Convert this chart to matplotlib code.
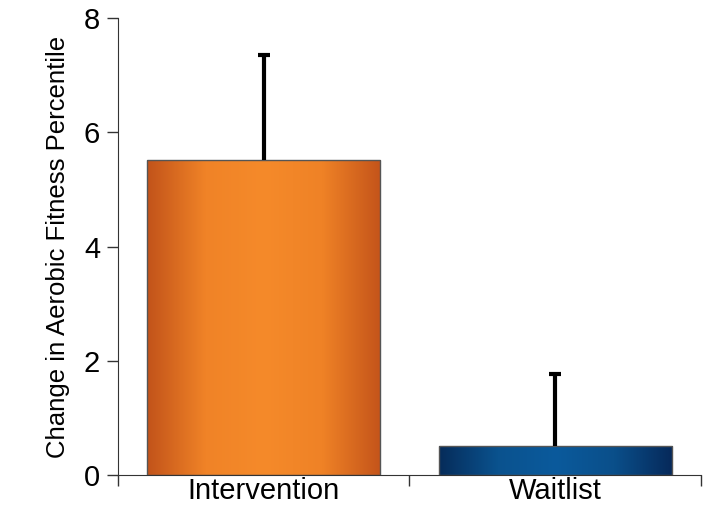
import numpy as np
import matplotlib.pyplot as plt
from matplotlib.colors import LinearSegmentedColormap

plt.rcParams['font.family'] = ['Liberation Sans', 'DejaVu Sans']

# Data
groups = ["Intervention", "Waitlist"]
means = [5.52, 0.51]
upper_err = [1.83, 1.26]

# Edge / centre colours for the horizontal bar gradients
bar_shades = [
    ["#c2531a", "#f08327", "#f58a2a", "#ef8226", "#c4541a"],
    ["#062c5a", "#0a528e", "#0b5a9c", "#0a4f8a", "#06295a"],
]

fig = plt.figure(figsize=(7.03, 5.09), dpi=100)
ax = fig.add_axes([0.168, 0.066, 0.829, 0.899])

width = 0.8
x = np.arange(len(groups))
bars = ax.bar(x, means, width=width, color="none", edgecolor="#555555",
              linewidth=1.0, zorder=3)

# Fill each bar with a horizontal gradient clipped to the bar rectangle
grad = np.linspace(0, 1, 256).reshape(1, -1)
for rect, shades in zip(bars, bar_shades):
    cmap = LinearSegmentedColormap.from_list("bar", shades)
    x0, y0 = rect.get_x(), rect.get_y()
    w, h = rect.get_width(), rect.get_height()
    img = ax.imshow(grad, cmap=cmap, aspect="auto",
                    extent=[x0, x0 + w, y0, y0 + h], zorder=2)
    img.set_clip_path(rect)

# Upper-only error bars: stem from bar top, cap only at the top
tops = np.array(means) + np.array(upper_err)
ax.vlines(x, means, tops, color="black", linewidth=3, zorder=4)
ax.plot(x, tops, linestyle="none", marker="_", markersize=8,
        markeredgewidth=3, color="black", zorder=4)

ax.set_xlim(-0.5, 1.5)
ax.set_ylim(0, 8)
ax.set_yticks([0, 2, 4, 6, 8])
ax.set_xticks([-0.5, 0.5, 1.5])
ax.set_xticklabels([])
ax.set_xticks(x, minor=True)
ax.set_xticklabels(groups, minor=True)
ax.tick_params(axis="x", which="minor", length=0, labelsize=21, pad=1)
ax.tick_params(axis="x", which="major", length=8, width=1, color="#333333")
ax.tick_params(axis="y", length=8, width=1, color="#333333", labelsize=21, pad=5)

ax.set_ylabel("Change in Aerobic Fitness Percentile", fontsize=18.5, labelpad=10)

ax.spines["top"].set_visible(False)
ax.spines["right"].set_visible(False)
ax.spines["left"].set_color("#333333")
ax.spines["bottom"].set_color("#333333")

fig.savefig("out.png", dpi=100)
